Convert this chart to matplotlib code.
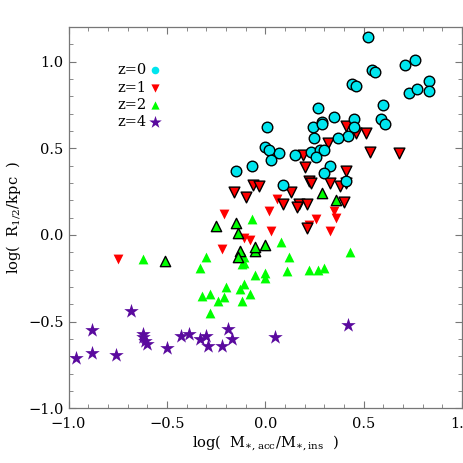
import matplotlib
matplotlib.use("Agg")
import matplotlib.pyplot as plt
from matplotlib.ticker import MultipleLocator

plt.rcParams["font.family"] = ["DejaVu Serif"]
plt.rcParams["mathtext.fontset"] = "dejavuserif"

# z=0 (all outlined)
x_z0 = [0.52, 0.71, 0.76, 0.54, 0.56, 0.44, 0.46, 0.83, 0.73, 0.77, 0.83, 0.60, 0.59, 0.61,
        0.27, 0.45, 0.45, 0.42, 0.37, 0.35, 0.24, 0.29, 0.29, 0.25, 0.23, 0.28, 0.30, 0.26,
        0.15, 0.33, 0.30, 0.07, 0.01, 0.00, 0.02, 0.03, -0.07, -0.15, 0.09, 0.41]
y_z0 = [1.14, 0.98, 1.01, 0.95, 0.94, 0.87, 0.86, 0.89, 0.82, 0.84, 0.83, 0.75, 0.67, 0.64,
        0.73, 0.67, 0.62, 0.57, 0.56, 0.68, 0.62, 0.65, 0.64, 0.56, 0.48, 0.49, 0.49, 0.45,
        0.46, 0.40, 0.36, 0.47, 0.62, 0.51, 0.49, 0.43, 0.40, 0.37, 0.29, 0.31]

# z=1, outlined / plain
x_z1_edge = [0.41, 0.46, 0.51, 0.53, 0.68, 0.32, 0.19, 0.20, 0.41, 0.22, 0.23, 0.33, 0.38,
             0.41, -0.16, -0.10, -0.06, -0.03, 0.13, 0.09, 0.17, 0.21, 0.16, 0.40, 0.21]
y_z1_edge = [0.63, 0.59, 0.59, 0.48, 0.47, 0.53, 0.46, 0.39, 0.37, 0.31, 0.30, 0.30, 0.28,
             0.30, 0.25, 0.22, 0.29, 0.28, 0.25, 0.18, 0.18, 0.18, 0.16, 0.19, 0.04]
x_z1 = [0.06, 0.02, -0.21, 0.35, 0.36, 0.26, 0.22, 0.03, 0.33, -0.11, -0.08, -0.22, -0.75]
y_z1 = [0.21, 0.14, 0.12, 0.14, 0.10, 0.09, 0.06, 0.02, 0.02, -0.02, -0.03, -0.08, -0.14]

# z=2, outlined / plain
x_z2_edge = [0.29, 0.36, -0.15, -0.14, -0.25, -0.13, -0.14, -0.05, -0.05, 0.00, -0.51]
y_z2_edge = [0.24, 0.20, 0.07, 0.01, 0.05, -0.09, -0.13, -0.09, -0.07, -0.06, -0.15]
x_z2 = [-0.07, 0.08, 0.12, 0.43, 0.11, 0.22, 0.27, 0.30, 0.00, 0.00, -0.05, -0.11, -0.12, -0.11,
        -0.13, -0.08, -0.12, -0.20, -0.21, -0.24, -0.30, -0.33, -0.32, -0.28, -0.28, -0.62, -0.11]
y_z2 = [0.09, -0.04, -0.13, -0.10, -0.21, -0.20, -0.20, -0.19, -0.22, -0.25, -0.23, -0.16, -0.17,
        -0.28, -0.31, -0.34, -0.38, -0.30, -0.36, -0.38, -0.13, -0.19, -0.35, -0.34, -0.45, -0.14,
        -0.13]

# z=4
x_z4 = [-0.96, -0.88, -0.88, -0.76, -0.68, -0.62, -0.62, -0.61, -0.60, -0.50, -0.43, -0.39,
        -0.33, -0.30, -0.29, -0.22, -0.19, -0.17, 0.05, 0.42]
y_z4 = [-0.71, -0.68, -0.55, -0.69, -0.44, -0.57, -0.59, -0.61, -0.63, -0.65, -0.58, -0.57,
        -0.60, -0.58, -0.64, -0.64, -0.54, -0.60, -0.59, -0.52]

legend_labels = ["z=0", "z=1", "z=2", "z=4"]

CYAN = "#00e5ee"
RED = "#ff0000"
GREEN = "#00ff00"
PURPLE = "#5a0a9e"

fig = plt.figure(figsize=(4.63, 4.63), dpi=100)
ax = fig.add_axes([0.148, 0.118, 0.85, 0.824])

ax.scatter(x_z4, y_z4, marker="*", s=120, color=PURPLE, linewidths=0, zorder=2)
ax.scatter(x_z2, y_z2, marker="^", s=50, color=GREEN, linewidths=0, zorder=3)
ax.scatter(x_z2_edge, y_z2_edge, marker="^", s=55, color=GREEN, edgecolors="black",
           linewidths=1.0, zorder=4)
ax.scatter(x_z1, y_z1, marker="v", s=50, color=RED, linewidths=0, zorder=3)
ax.scatter(x_z1_edge, y_z1_edge, marker="v", s=60, color=RED, edgecolors="black",
           linewidths=1.0, zorder=4)
ax.scatter(x_z0, y_z0, marker="o", s=58, color=CYAN, edgecolors="black",
           linewidths=1.0, zorder=5)

# legend drawn by hand, label then symbol
leg_style = [("o", CYAN, 30), ("v", RED, 35), ("^", GREEN, 35), ("*", PURPLE, 90)]
for i, (lab, (mk, col, sz)) in enumerate(zip(legend_labels, leg_style)):
    yy = 0.95 - 0.1 * i
    ax.text(-0.75, yy, lab, fontsize=10.5, va="center", ha="left")
    ax.scatter([-0.56], [yy], marker=mk, s=sz, color=col, linewidths=0)

ax.set_xlim(-1.0, 1.0)
ax.set_ylim(-1.0, 1.2)
ax.xaxis.set_major_locator(MultipleLocator(0.5))
ax.xaxis.set_minor_locator(MultipleLocator(0.1))
ax.yaxis.set_major_locator(MultipleLocator(0.5))
ax.yaxis.set_minor_locator(MultipleLocator(0.1))
ax.tick_params(which="both", direction="in", top=True, right=True, color="#777777",
               labelsize=10.5)
ax.tick_params(which="major", length=5, width=0.8)
ax.tick_params(which="minor", length=3, width=0.6)
ax.tick_params(axis="x", pad=6)
for sp in ax.spines.values():
    sp.set_color("#777777")
    sp.set_linewidth(0.9)

ax.set_xlabel(r"log(  M$_{\ast\mathregular{,acc}}$/M$_{\ast\mathregular{,ins}}$  )", fontsize=10.5,
              labelpad=2)
ax.set_ylabel(r"log(  R$_{1/2}$/kpc  )", fontsize=10.5, labelpad=4)

fig.savefig("out.png", dpi=100)
